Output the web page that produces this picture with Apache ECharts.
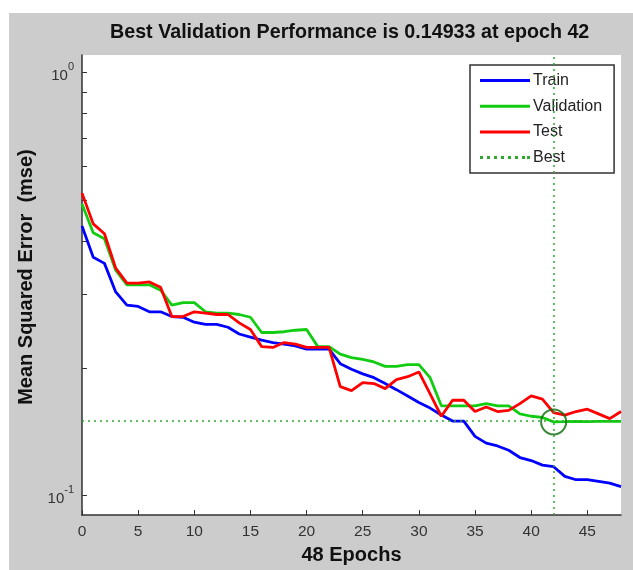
<!DOCTYPE html>
<html>
<head>
<meta charset="utf-8">
<script src="https://cdn.jsdelivr.net/npm/echarts@6/dist/echarts.min.js"></script>
<style>
  html, body { margin: 0; padding: 0; background: #fff; }
  #chart { width: 633px; height: 570px; }
</style>
</head>
<body>
<div id="chart"></div>
<script>
const epochs = [0, 1, 2, 3, 4, 5, 6, 7, 8, 9, 10, 11, 12, 13, 14, 15, 16, 17, 18, 19, 20, 21, 22, 23, 24,
  25, 26, 27, 28, 29, 30, 31, 32, 33, 34, 35, 36, 37, 38, 39, 40, 41, 42, 43, 44, 45, 46, 47, 48];

const train = [0.434, 0.366, 0.354, 0.303, 0.282, 0.280, 0.272, 0.272, 0.265, 0.264, 0.257, 0.254, 0.254,
  0.250, 0.241, 0.237, 0.233, 0.230, 0.228, 0.226, 0.222, 0.222, 0.222, 0.205, 0.199, 0.194, 0.190, 0.184,
  0.178, 0.172, 0.166, 0.161, 0.155, 0.150, 0.150, 0.138, 0.133, 0.131, 0.128, 0.123, 0.121, 0.118, 0.117,
  0.111, 0.109, 0.109, 0.108, 0.107, 0.105];

const validation = [0.489, 0.418, 0.405, 0.341, 0.315, 0.315, 0.315, 0.306, 0.282, 0.286, 0.286, 0.272, 0.270,
  0.270, 0.268, 0.264, 0.243, 0.243, 0.244, 0.246, 0.247, 0.225, 0.225, 0.216, 0.212, 0.210, 0.207, 0.202,
  0.202, 0.204, 0.204, 0.190, 0.163, 0.163, 0.163, 0.163, 0.165, 0.163, 0.163, 0.156, 0.154, 0.153, 0.14933,
  0.1495, 0.1497, 0.1496, 0.1498, 0.1497, 0.1497];

const test = [0.519, 0.439, 0.416, 0.345, 0.318, 0.318, 0.320, 0.311, 0.265, 0.265, 0.272, 0.270, 0.268,
  0.268, 0.256, 0.247, 0.225, 0.224, 0.230, 0.228, 0.224, 0.224, 0.224, 0.181, 0.177, 0.185, 0.184, 0.179,
  0.188, 0.191, 0.196, 0.174, 0.154, 0.168, 0.168, 0.158, 0.162, 0.158, 0.159, 0.165, 0.172, 0.169, 0.157,
  0.155, 0.158, 0.160, 0.156, 0.152, 0.158];

const bestEpoch = 42;
const bestValue = 0.14933;

const xTicks = [0, 5, 10, 15, 20, 25, 30, 35, 40, 45];
const yTicks = [0.1, 0.2, 0.3, 0.4, 0.5, 0.6, 0.7, 0.8, 0.9, 1];
const yLabels = [0.1, 1];

const FONT = '"Liberation Sans", Arial, sans-serif';

// legend samples: a plain bar for the curves, a row of dots for "Best"
const SOLID_ICON = 'path://M0,0h50v3h-50z';
const DOTTED_ICON = 'path://M0,0h3v3h-3zM7,0h3v3h-3zM14,0h3v3h-3zM21,0h3v3h-3zM28,0h3v3h-3zM35,0h3v3h-3zM42,0h3v3h-3zM47,0h3v3h-3z';

function pairs(values) {
  return epochs.map(function (e, i) { return [e, values[i]]; });
}

function lineSeries(name, values, color) {
  return {
    name: name,
    type: 'line',
    data: pairs(values),
    symbol: 'none',
    lineStyle: { color: color, width: 2.8 },
    itemStyle: { color: color },
    z: 3
  };
}

const chart = echarts.init(document.getElementById('chart'));

chart.setOption({
  backgroundColor: '#cccccc',
  animation: false,
  graphic: [
    { type: 'rect', shape: { x: 0, y: 0, width: 633, height: 13 }, style: { fill: '#ffffff' } },
    { type: 'rect', shape: { x: 0, y: 0, width: 9, height: 570 }, style: { fill: '#ffffff' } }
  ],
  title: {
    text: 'Best Validation Performance is ' + bestValue + ' at epoch ' + bestEpoch,
    left: 110,
    top: 23,
    padding: 0,
    textStyle: { fontFamily: FONT, fontSize: 19.7, fontWeight: 'bold', color: '#111' }
  },
  grid: {
    left: 82, top: 55, right: 12, bottom: 47,
    show: true, backgroundColor: '#ffffff', borderWidth: 0
  },
  legend: {
    data: [
      { name: 'Train', icon: SOLID_ICON },
      { name: 'Validation', icon: SOLID_ICON },
      { name: 'Test', icon: SOLID_ICON },
      { name: 'Best', icon: DOTTED_ICON }
    ],
    orient: 'vertical',
    left: 470,
    top: 65,
    padding: [7.5, 12, 7.5, 10],
    itemGap: 9.7,
    itemWidth: 50,
    itemHeight: 3,
    backgroundColor: '#ffffff',
    borderColor: '#333',
    borderWidth: 1.5,
    textStyle: { fontFamily: FONT, fontSize: 16, color: '#222', padding: [0, 0, 0, -2] }
  },
  xAxis: {
    type: 'value',
    min: 0,
    max: 48,
    name: epochs.length - 1 + ' Epochs',
    nameLocation: 'middle',
    nameGap: 29,
    nameTextStyle: { fontFamily: FONT, fontSize: 20, fontWeight: 'bold', color: '#111' },
    axisLine: { lineStyle: { color: '#333', width: 1.5 } },
    axisTick: { inside: true, length: 5, customValues: xTicks, lineStyle: { color: '#333' } },
    axisLabel: { customValues: xTicks, margin: 9, fontFamily: FONT, fontSize: 15.5, color: '#333' },
    splitLine: { show: false }
  },
  yAxis: {
    type: 'log',
    logBase: 10,
    min: 0.0899,
    max: 1.101,
    name: 'Mean Squared Error  (mse)',
    nameLocation: 'middle',
    nameGap: 42,
    nameTextStyle: {
      fontFamily: FONT, fontSize: 20, fontWeight: 'bold', color: '#111',
      padding: [0, 0, 0, 16]
    },
    axisLine: { show: true, lineStyle: { color: '#333', width: 1.5 } },
    axisTick: { show: true, inside: true, length: 5, customValues: yTicks, lineStyle: { color: '#333' } },
    axisLabel: {
      customValues: yLabels,
      margin: 8,
      formatter: function (v) {
        const exp = Math.round(Math.log10(v));
        return '{b|10}{s|' + exp + '}';
      },
      rich: {
        b: { fontFamily: FONT, fontSize: 15, color: '#333', lineHeight: 22, verticalAlign: 'bottom' },
        s: { fontFamily: FONT, fontSize: 11, color: '#333', lineHeight: 22, verticalAlign: 'top' }
      }
    },
    splitLine: { show: false }
  },
  series: [
    lineSeries('Train', train, '#0000ff'),
    lineSeries('Validation', validation, '#11cc11'),
    lineSeries('Test', test, '#ff0000'),
    {
      name: 'Best',
      type: 'line',
      data: [],
      symbol: 'none',
      lineStyle: { color: '#2fa82f', width: 1.5, type: [2, 4] },
      itemStyle: { color: '#2fa82f' },
      markLine: {
        silent: true,
        symbol: 'none',
        label: { show: false },
        lineStyle: { color: '#2fa82f', width: 1.5, type: [2, 4] },
        data: [{ xAxis: bestEpoch }, { yAxis: bestValue }]
      },
      z: 2
    },
    {
      name: 'bestPoint',
      type: 'scatter',
      data: [[bestEpoch, bestValue]],
      symbol: 'circle',
      symbolSize: 25,
      itemStyle: { color: 'rgba(0,0,0,0)', borderColor: '#0a6a0a', borderWidth: 2 },
      z: 4
    }
  ]
});
</script>
</body>
</html>
